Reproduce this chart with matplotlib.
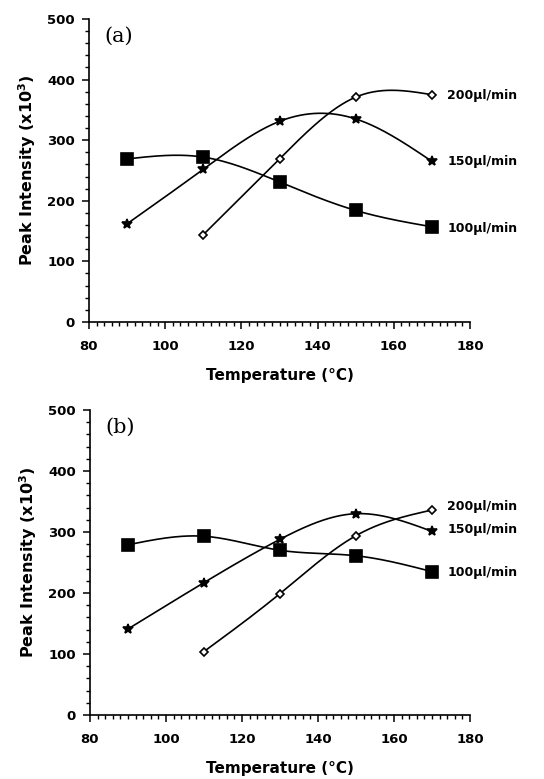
import numpy as np
import matplotlib
matplotlib.use("Agg")
import matplotlib.pyplot as plt
from matplotlib.ticker import MultipleLocator
from matplotlib.font_manager import FontProperties

# Data
temps = [90, 110, 130, 150, 170]
temps_200 = [110, 130, 150, 170]

a_100 = [269, 272, 231, 184, 157]
a_150 = [162, 252, 331, 335, 265]
a_200 = [144, 269, 371, 375]

b_100 = [279, 293, 270, 261, 235]
b_150 = [141, 217, 288, 330, 301]
b_200 = [104, 199, 294, 336]

labels = ["200\u00b5l/min", "150\u00b5l/min", "100\u00b5l/min"]
a_label_y = [374, 264, 154]
b_label_y = [341, 304, 233]


def natural_spline(x, y, n=200):
    # natural cubic spline through the points, for the smooth curves
    x = np.asarray(x, float)
    y = np.asarray(y, float)
    k = len(x)
    h = np.diff(x)
    A = np.zeros((k, k))
    r = np.zeros(k)
    A[0, 0] = A[-1, -1] = 1
    for i in range(1, k - 1):
        A[i, i - 1] = h[i - 1]
        A[i, i] = 2 * (h[i - 1] + h[i])
        A[i, i + 1] = h[i]
        r[i] = 3 * ((y[i + 1] - y[i]) / h[i] - (y[i] - y[i - 1]) / h[i - 1])
    c = np.linalg.solve(A, r)
    xs = np.linspace(x[0], x[-1], n)
    idx = np.clip(np.searchsorted(x, xs) - 1, 0, k - 2)
    dx = xs - x[idx]
    hi = h[idx]
    b = (y[idx + 1] - y[idx]) / hi - hi * (2 * c[idx] + c[idx + 1]) / 3
    d = (c[idx + 1] - c[idx]) / (3 * hi)
    ys = y[idx] + b * dx + c[idx] * dx ** 2 + d * dx ** 3
    return xs, ys


tick_font = FontProperties(family="DejaVu Sans", weight="bold", size=9.5)

fig = plt.figure(figsize=(5.44, 7.79), dpi=100)
ax_a = fig.add_axes([0.1636, 0.5867, 0.7004, 0.389])
ax_b = fig.add_axes([0.1654, 0.0822, 0.6986, 0.3915])

panels = [
    (ax_a, "(a)", a_100, a_150, a_200, a_label_y),
    (ax_b, "(b)", b_100, b_150, b_200, b_label_y),
]

for ax, tag, s100, s150, s200, ly in panels:
    for xv, yv, mk, ms, fc in [
        (temps, s100, "s", 8.5, "black"),
        (temps, s150, "*", 7, "black"),
        (temps_200, s200, "D", 4.5, "white"),
    ]:
        xs, ys = natural_spline(xv, yv)
        ax.plot(xs, ys, color="black", lw=1.2)
        ax.plot(xv, yv, linestyle="none", marker=mk, ms=ms,
                mfc=fc, mec="black", mew=1.2, clip_on=False)

    for lab, yy in zip(labels, ly):
        ax.text(174, yy, lab, va="center", ha="left", fontsize=9,
                fontweight="bold", family="DejaVu Sans", clip_on=False)

    ax.text(84, 472, tag, family="DejaVu Serif", fontsize=15, va="center")

    ax.set_xlim(80, 180)
    ax.set_ylim(0, 500)
    ax.spines["top"].set_visible(False)
    ax.spines["right"].set_visible(False)
    ax.spines["left"].set_linewidth(1.2)
    ax.spines["bottom"].set_linewidth(1.2)
    ax.xaxis.set_major_locator(MultipleLocator(20))
    ax.xaxis.set_minor_locator(MultipleLocator(2))
    ax.yaxis.set_major_locator(MultipleLocator(100))
    ax.yaxis.set_minor_locator(MultipleLocator(20))
    ax.tick_params(which="major", direction="out", length=5, width=1.1)
    ax.tick_params(which="minor", direction="out", length=3, width=1.0)
    ax.tick_params(axis="x", pad=8)
    ax.tick_params(axis="y", pad=5)
    for t in ax.get_xticklabels() + ax.get_yticklabels():
        t.set_fontproperties(tick_font)

    ax.set_xlabel("Temperature (\u00b0C)", fontweight="bold", fontsize=11,
                  family="DejaVu Sans", labelpad=11)
    ax.set_ylabel("Peak Intensity (x10$^\\mathbf{3}$)", fontweight="bold",
                  fontsize=11.5, family="DejaVu Sans", labelpad=7)

fig.savefig("out.png", dpi=100)
